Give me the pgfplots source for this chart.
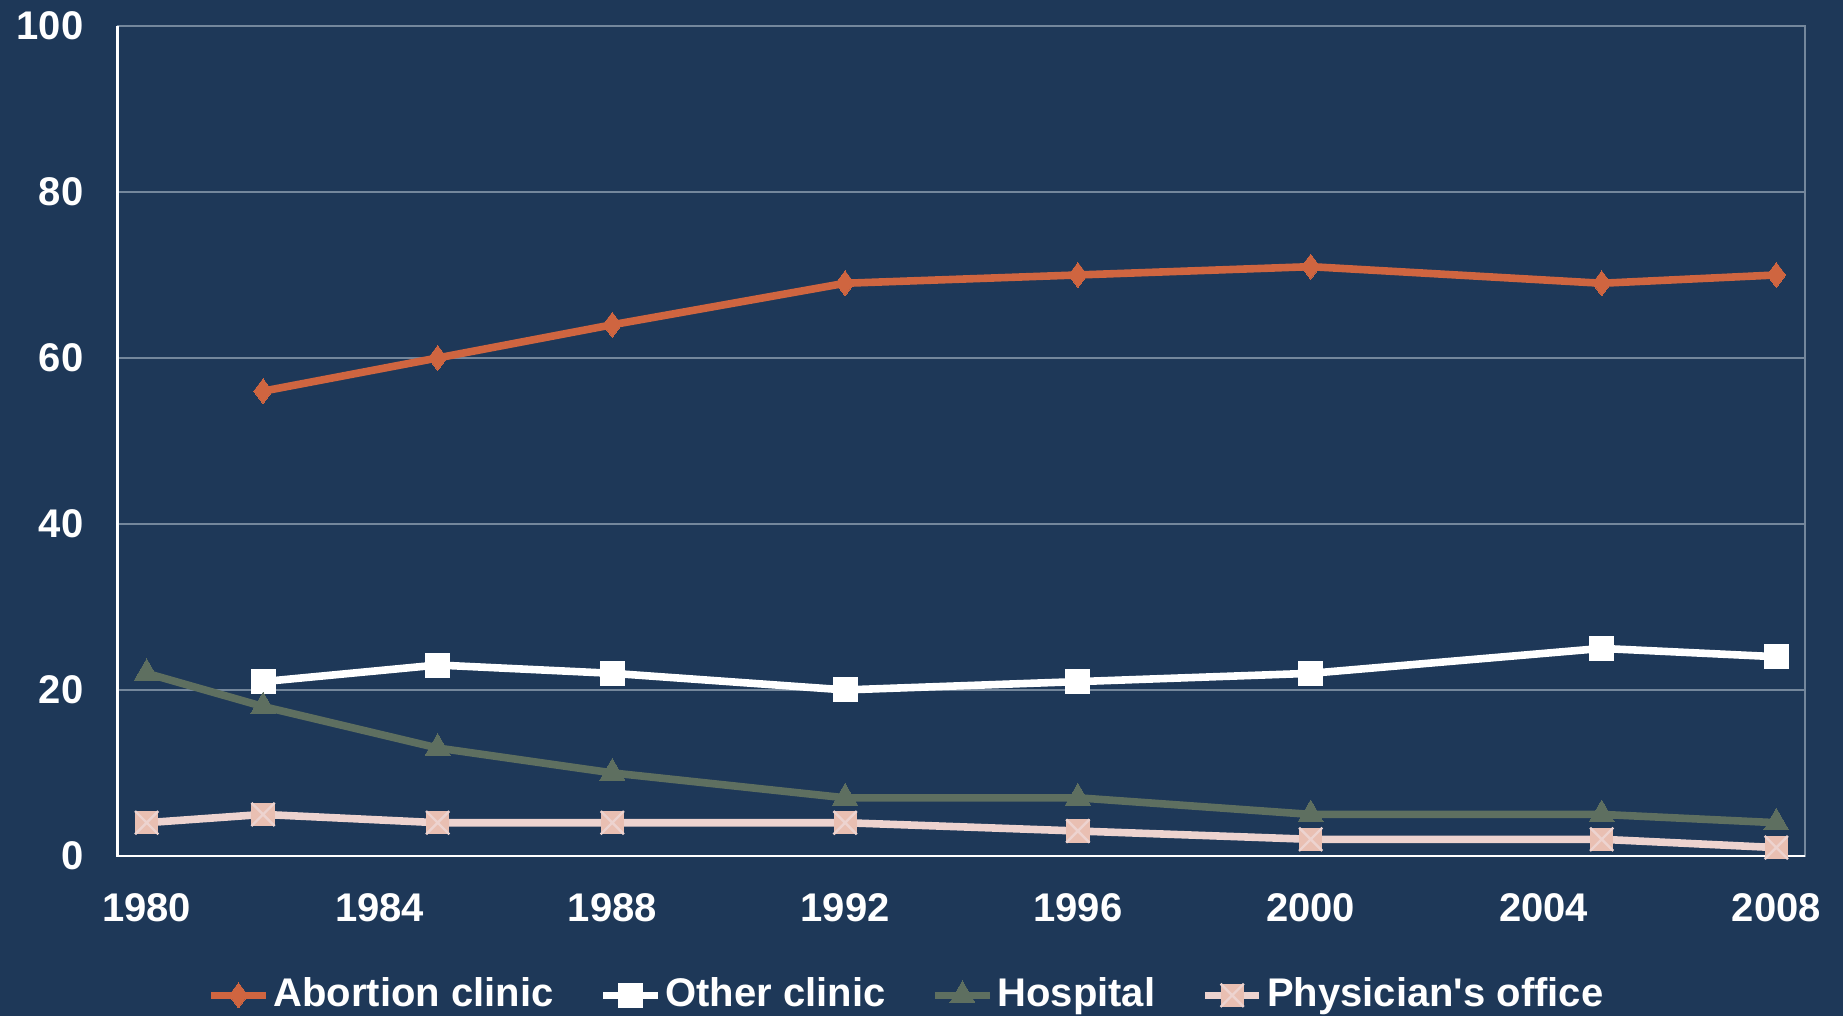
\documentclass[border=0pt]{standalone}
\usepackage{fontspec}
\setmainfont{Liberation Sans}
\usepackage{pgfplots}
\pgfplotsset{compat=1.18}

\definecolor{bg}{HTML}{1E3858}
\definecolor{gridc}{HTML}{74879C}
\definecolor{abort}{HTML}{CF6540}
\definecolor{hosp}{HTML}{5E6F60}
\definecolor{physline}{HTML}{EDD3CF}
\definecolor{physfill}{HTML}{E9BFB2}

% filled square with a cross on it
\pgfdeclareplotmark{sqx}{%
  \pgfpathrectangle{\pgfqpoint{-\pgfplotmarksize}{-\pgfplotmarksize}}{\pgfqpoint{2\pgfplotmarksize}{2\pgfplotmarksize}}%
  \pgfusepathqfill
  \pgfpathmoveto{\pgfqpoint{-\pgfplotmarksize}{-\pgfplotmarksize}}%
  \pgfpathlineto{\pgfqpoint{\pgfplotmarksize}{\pgfplotmarksize}}%
  \pgfpathmoveto{\pgfqpoint{-\pgfplotmarksize}{\pgfplotmarksize}}%
  \pgfpathlineto{\pgfqpoint{\pgfplotmarksize}{-\pgfplotmarksize}}%
  \pgfusepathqstroke
}

\begin{document}
\begin{tikzpicture}
\path[use as bounding box, fill=bg] (-29.4pt,-40pt) rectangle (431.4pt,214pt);
\begin{axis}[
    at={(0pt,0pt)}, anchor=south west,
    scale only axis, width=422pt, height=207.5pt,
    xmin=1979.5, xmax=2008.5, ymin=0, ymax=100,
    xtick={1980,1984,1988,1992,1996,2000,2004,2008},
    ytick={0,20,40,60,80,100},
    major tick length=0pt,
    axis background/.style={fill=bg},
    axis line style={draw=gridc, line width=0.5pt},
    ymajorgrids, grid style={gridc, line width=0.5pt},
    /pgf/number format/assume math mode=true,
    /pgf/number format/1000 sep={},
    tick label style={font=\bfseries\fontsize{10}{12}\selectfont, text=white},
    yticklabel style={xshift=-5pt},
    xticklabel style={yshift=-6pt},
    clip=false,
    legend style={draw=none, fill=none, text=white,
        font=\bfseries\fontsize{10}{12}\selectfont,
        at={(0.468,-0.168)}, anchor=center,
        nodes={inner sep=1pt},
        /tikz/every even column/.append style={column sep=10.5pt}},
    legend columns=-1,
    legend image code/.code={\draw[mark repeat=2, mark phase=2] plot coordinates {(0pt,0pt) (6.8pt,0pt) (13.6pt,0pt)};},
    every axis plot/.append style={line width=1.9pt},
]
\addplot[abort, mark=diamond*, mark size=3.1pt, mark options={solid, line width=0pt}] coordinates {
    (1982,56) (1985,60) (1988,64) (1992,69) (1996,70) (2000,71) (2005,69) (2008,70)
};
\addlegendentry{Abortion clinic}
\addplot[white, mark=square*, mark size=3pt, mark options={solid, line width=0pt}] coordinates {
    (1982,21) (1985,23) (1988,22) (1992,20) (1996,21) (2000,22) (2005,25) (2008,24)
};
\addlegendentry{Other clinic}
\addplot[hosp, mark=triangle*, mark size=3.6pt, mark options={solid, line width=0pt}] coordinates {
    (1980,22) (1982,18) (1985,13) (1988,10) (1992,7) (1996,7) (2000,5) (2005,5) (2008,4)
};
\addlegendentry{Hospital}
\addplot[physline, mark=sqx, mark size=2.9pt, mark options={solid, fill=physfill, draw=physline, line width=0.6pt}] coordinates {
    (1980,4) (1982,5) (1985,4) (1988,4) (1992,4) (1996,3) (2000,2) (2005,2) (2008,1)
};
\addlegendentry{Physician\textquotesingle s office}
\draw[white, line width=0.6pt] (rel axis cs:0,1) -- (rel axis cs:0,0) -- (rel axis cs:1,0);
\end{axis}
\end{tikzpicture}
\end{document}
